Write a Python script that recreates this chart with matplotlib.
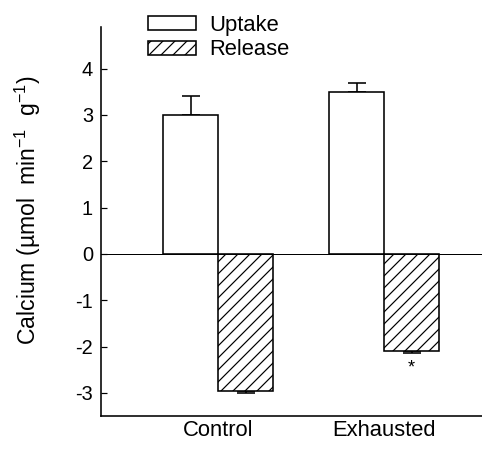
import matplotlib
matplotlib.use("Agg")
import matplotlib.pyplot as plt
import numpy as np

plt.rcParams['font.family'] = ['Liberation Sans', 'DejaVu Sans']
plt.rcParams['mathtext.fontset'] = 'custom'
plt.rcParams['mathtext.rm'] = 'Liberation Sans'
plt.rcParams['mathtext.it'] = 'Liberation Sans'
plt.rcParams['axes.unicode_minus'] = False
plt.rcParams['hatch.linewidth'] = 1.2

# data
groups = ['Control', 'Exhausted']
uptake = [3.0, 3.5]
uptake_err = [0.41, 0.19]
release = [-2.96, -2.10]
release_err = [0.04, 0.04]
signif = ['', '*']

fig = plt.figure(figsize=(482 / 72, 450 / 72), dpi=72)
ax = fig.add_axes([101 / 482, 34 / 450, 381 / 482, 389 / 450])

x = np.arange(len(groups))
w = 0.331

ax.bar(x - w / 2, uptake, w, color='white', edgecolor='black', linewidth=1.6,
       label='Uptake', zorder=3)
ax.bar(x + w / 2, release, w, color='white', edgecolor='black', linewidth=1.6,
       hatch='//', label='Release', zorder=3)

ax.errorbar(x - w / 2, uptake, yerr=[np.zeros(len(x)), uptake_err], fmt='none',
            ecolor='black', elinewidth=1.6, capsize=9, capthick=1.6, zorder=2)
ax.errorbar(x + w / 2, release, yerr=[release_err, np.zeros(len(x))], fmt='none',
            ecolor='black', elinewidth=1.6, capsize=9, capthick=1.6, zorder=2)

for i, s in enumerate(signif):
    if s:
        ax.text(x[i] + w / 2, release[i] - release_err[i] - 0.32, s,
                ha='center', va='center', fontsize=18)

ax.axhline(0, color='black', linewidth=1.0, zorder=4)

ax.set_xlim(-0.705, 1.59)
ax.set_ylim(-3.5, 4.9)
ax.set_yticks(range(-3, 5))
ax.set_xticks(x)
ax.set_xticklabels(groups, fontsize=22)
ax.tick_params(axis='x', length=0, pad=4)
ax.tick_params(axis='y', direction='in', length=6, width=1.2, labelsize=20, pad=8)

for s in ['top', 'right']:
    ax.spines[s].set_visible(False)
for s in ['left', 'bottom']:
    ax.spines[s].set_linewidth(1.6)

ax.set_ylabel('Calcium (µmol  min$^{\\mathregular{-1}}$  g$^{\\mathregular{-1}}$)', fontsize=23)
ax.yaxis.set_label_coords(-0.152, 0.53)

ax.legend(loc='upper left', bbox_to_anchor=(148 / 482, 1 - 15 / 450),
          bbox_transform=fig.transFigure, frameon=False, fontsize=22,
          borderpad=0, handlelength=2.2, handleheight=0.6,
          handletextpad=0.6, labelspacing=0.15, borderaxespad=0)

fig.savefig('out.png', dpi=72)
